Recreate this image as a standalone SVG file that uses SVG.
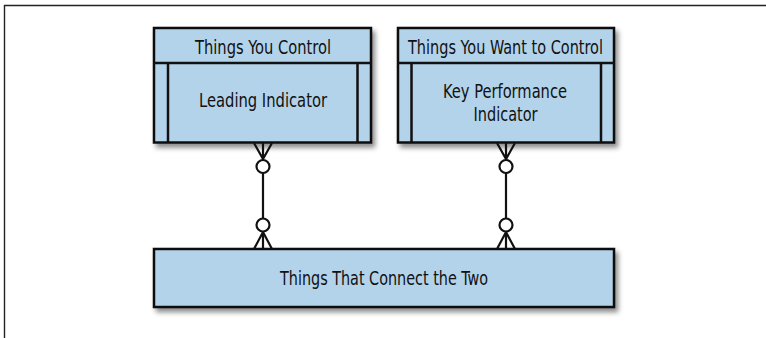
<svg xmlns="http://www.w3.org/2000/svg" width="766" height="338" viewBox="0 0 766 338">
<defs>
<filter id="sh" x="-10%" y="-10%" width="125%" height="140%">
<feDropShadow dx="3" dy="4" stdDeviation="2.5" flood-color="#000" flood-opacity="0.45"/>
</filter>
</defs>
<style>
.box{fill:#b3d3ea;stroke:#111;stroke-width:2.5}
.ln{fill:none;stroke:#111;stroke-width:2.5}
.cn{fill:none;stroke:#111;stroke-width:2.2}
.ring{fill:#fff;stroke:#111;stroke-width:2.2}
text{font-family:"Liberation Sans Narrow","DejaVu Sans Condensed","Liberation Sans",sans-serif;font-size:20px;fill:#111;text-anchor:middle}
</style>
<rect width="766" height="338" fill="#fff"/>
<path d="M4.5,338 V5.5 H766" fill="none" stroke="#222" stroke-width="1.4"/>
<g id="node-control">
<rect class="box" x="154" y="28" width="217" height="114.5" filter="url(#sh)"/>
<path class="ln" d="M154,63 H371 M168,63 V142.5 M357.5,63 V142.5"/>
<text x="263" y="54" textLength="136" lengthAdjust="spacingAndGlyphs">Things You Control</text>
<text x="263" y="107" textLength="128" lengthAdjust="spacingAndGlyphs">Leading Indicator</text>
</g>
<g id="node-want">
<rect class="box" x="398" y="28" width="216" height="114.5" filter="url(#sh)"/>
<path class="ln" d="M398,63 H614 M411.5,63 V142.5 M601,63 V142.5"/>
<text x="505.5" y="54" textLength="195" lengthAdjust="spacingAndGlyphs">Things You Want to Control</text>
<text x="505" y="98" textLength="124" lengthAdjust="spacingAndGlyphs">Key Performance</text>
<text x="505.5" y="121" textLength="64" lengthAdjust="spacingAndGlyphs">Indicator</text>
</g>
<g id="node-connect">
<rect class="box" x="154" y="249" width="460" height="58" filter="url(#sh)"/>
<text x="384" y="285" textLength="208" lengthAdjust="spacingAndGlyphs">Things That Connect the Two</text>
</g>
<g id="connectors">
<path class="cn" d="M254,143 L263,159 L272,143 M263,143 V160 M263,173 V218 M263,232 V249 M254,249 L263,232 L272,249"/>
<circle class="ring" cx="263" cy="166.5" r="6.5"/>
<circle class="ring" cx="263" cy="225" r="6.5"/>
<path class="cn" d="M497,143 L506,159 L515,143 M506,143 V160 M506,173 V218 M506,232 V249 M497,249 L506,232 L515,249"/>
<circle class="ring" cx="506" cy="166.5" r="6.5"/>
<circle class="ring" cx="506" cy="225" r="6.5"/>
</g>
</svg>
